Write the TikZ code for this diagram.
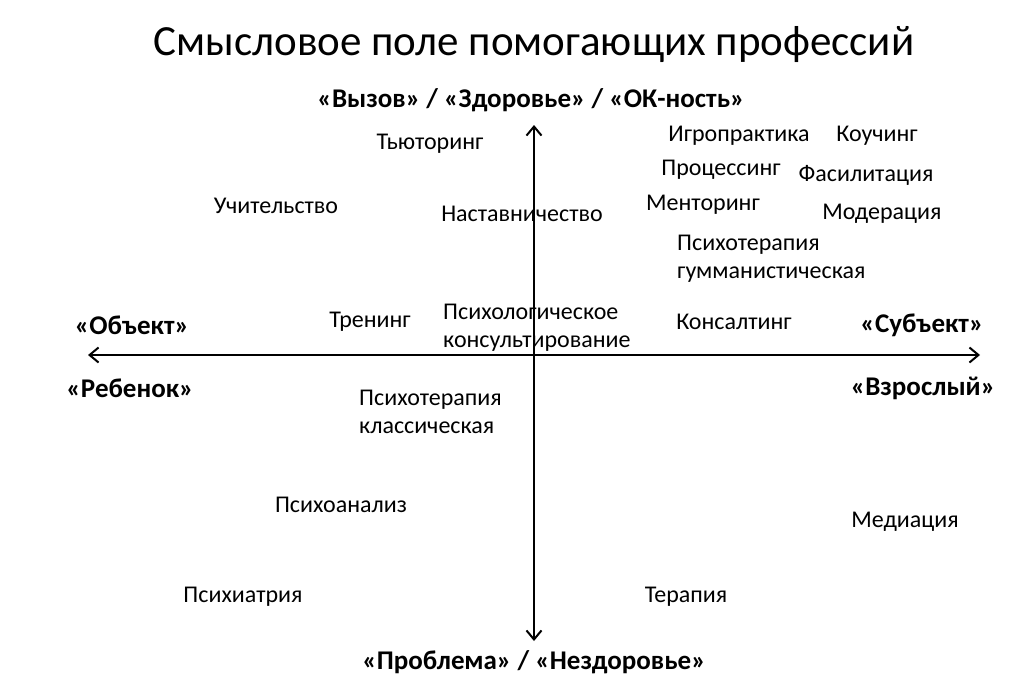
\documentclass[tikz,border=0pt]{standalone}
\usepackage{fontspec}
\setmainfont{Carlito}
\usetikzlibrary{arrows.meta}

\begin{document}
\begin{tikzpicture}[x=1pt,y=-1pt,
lbl/.style={font=\fontsize{24}{28}\selectfont,inner sep=0pt,yshift=-3pt},
pole/.style={font=\bfseries\fontsize{27}{30}\selectfont,inner sep=0pt},
twoline/.style={lbl,align=left,anchor=west},
axis/.style={line width=2pt,{Straight Barb[length=9pt,width=15pt]}-{Straight Barb[length=9pt,width=15pt]}}]
\useasboundingbox (0,0) rectangle (1035,678);
\draw
(534,45) node[font=\fontsize{43}{50}\selectfont,inner sep=0pt](title){Смысловое поле помогающих профессий}
(531,100) node[pole](top){«Вызов» / «Здоровье» / «ОК-ность»}
(534,662) node[pole](bottom){«Проблема» / «Нездоровье»}
(132,325) node[pole](obj){«Объект»}
(130,388) node[pole](child){«Ребенок»}
(922,325) node[pole](subj){«Субъект»}
(923,388) node[pole](adult){«Взрослый»}
;
\coordinate (up) at (534,125);
\coordinate (down) at (534,641);
\coordinate (left) at (88,355);
\coordinate (right) at (980,355);
\draw[axis](down)--(up);
\draw[axis](left)--(right);
\foreach \n/\x/\y/\t in {tut/430/141/Тьюторинг, uch/276/203/Учительство,
nast/522/211/Наставничество, igr/739/133/Игропрактика, kouch/877/133/Коучинг,
proc/721/167/Процессинг, fas/866/172/Фасилитация, ment/703/202/Менторинг,
mod/882/211/Модерация, tren/370/319/Тренинг, kons/734/319/Консалтинг,
psan/341/502/Психоанализ, med/905/519/Медиация, psiat/243/594/Психиатрия,
ter/686/594/Терапия}{
\node[lbl](\n) at (\x,\y){\t};
}
\node[twoline](gum) at (677,256){Психотерапия\\гумманистическая};
\node[twoline](konsult) at (443,325){Психологическое\\консультирование};
\node[twoline](klass) at (359,409){Психотерапия\\классическая};
\end{tikzpicture}
\end{document}
